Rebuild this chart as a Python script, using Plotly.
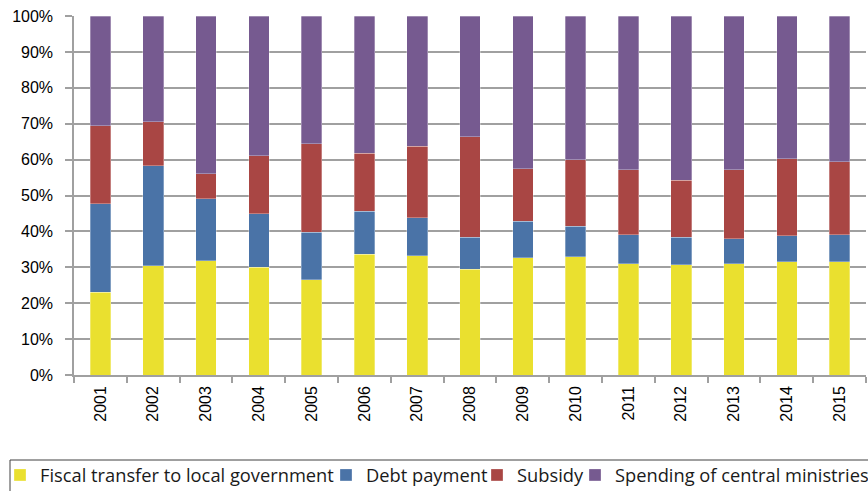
import plotly.graph_objects as go

years = ["2001", "2002", "2003", "2004", "2005", "2006", "2007", "2008",
         "2009", "2010", "2011", "2012", "2013", "2014", "2015"]

# cumulative boundaries (percent)
fiscal_transfer = [23.0, 30.4, 31.8, 30.0, 26.5, 33.7, 33.2, 29.5, 32.7, 32.9, 31.0, 30.7, 31.0, 31.6, 31.5]
debt_cum = [47.7, 58.3, 49.1, 44.9, 39.8, 45.6, 43.8, 38.4, 42.8, 41.4, 39.0, 38.4, 37.9, 38.8, 39.0]
subsidy_cum = [69.5, 70.6, 56.0, 61.1, 64.4, 61.8, 63.7, 66.4, 57.4, 59.9, 57.2, 54.2, 57.2, 60.3, 59.4]

debt_payment = [round(d - f, 1) for d, f in zip(debt_cum, fiscal_transfer)]
subsidy = [round(s - d, 1) for s, d in zip(subsidy_cum, debt_cum)]
central_ministries = [round(100 - s, 1) for s in subsidy_cum]

series_names = ["Fiscal transfer to local government", "Debt payment", "Subsidy",
                "Spending of central ministries"]
series_values = [fiscal_transfer, debt_payment, subsidy, central_ministries]
series_colors = ["#EAE02F", "#4A73A7", "#A94644", "#765A90"]

W, H = 868, 491
ML, MR, MT, MB = 74, 2, 16, 116
PW, PH = W - ML - MR, H - MT - MB

# one legend per entry, laid out in a single row like the reference
legend_left_px = [0, 326, 477, 575]
legend_ids = ["legend", "legend2", "legend3", "legend4"]

TICKFONT = "Liberation Sans"
LEGFONT = "Open Sans"

fig = go.Figure()
for name, vals, color, lid in zip(series_names, series_values, series_colors, legend_ids):
    fig.add_trace(go.Bar(
        x=years, y=vals, name=name, legend=lid,
        marker=dict(color=color, line=dict(color="rgba(255,255,255,0.5)", width=0.6)),
    ))

layout_legends = {}
for lid, lx in zip(legend_ids, legend_left_px):
    layout_legends[lid] = dict(
        orientation="h",
        xref="container", yref="container",
        x=lx / W, xanchor="left",
        y=(H - 475) / H, yanchor="middle",
        borderwidth=0, bgcolor="rgba(0,0,0,0)",
        font=dict(family=LEGFONT, size=18.3, color="#1a1a1a"),
        itemwidth=30,
    )

fig.update_layout(
    barmode="stack",
    bargap=0.61,
    width=W, height=H,
    margin=dict(l=ML, r=MR, t=MT, b=MB),
    paper_bgcolor="white",
    plot_bgcolor="white",
    font=dict(family=TICKFONT, size=16, color="black"),
    showlegend=True,
    **layout_legends,
    shapes=[dict(
        type="rect", xref="paper", yref="paper",
        x0=(10 - ML) / PW, x1=(920 - ML) / PW,
        y0=(MT + PH - 460) / PH, y1=(MT + PH - 520) / PH,
        line=dict(color="#404040", width=1), fillcolor="rgba(0,0,0,0)",
        layer="below",
    )],
    xaxis=dict(
        type="category",
        tickangle=-90,
        showline=True, linecolor="#A0A0A0", linewidth=1.5,
        ticks="outside", tickson="boundaries", ticklen=6, tickcolor="#A0A0A0", tickwidth=1.5,
        showgrid=False,
        ticklabelstandoff=3,
        tickfont=dict(family=TICKFONT, size=16, color="black"),
    ),
    yaxis=dict(
        range=[0, 100],
        tickvals=[0, 10, 20, 30, 40, 50, 60, 70, 80, 90, 100],
        ticktext=["0%", "10%", "20%", "30%", "40%", "50%", "60%", "70%", "80%", "90%", "100%"],
        showgrid=True, gridcolor="#A0A0A0", gridwidth=1.5,
        showline=True, linecolor="#A0A0A0", linewidth=1.5,
        ticks="outside", ticklen=7, tickcolor="#A0A0A0", tickwidth=1.5,
        ticklabelstandoff=9,
        zeroline=False,
        tickfont=dict(family=TICKFONT, size=16, color="black"),
    ),
)

fig.write_html("out.html")
